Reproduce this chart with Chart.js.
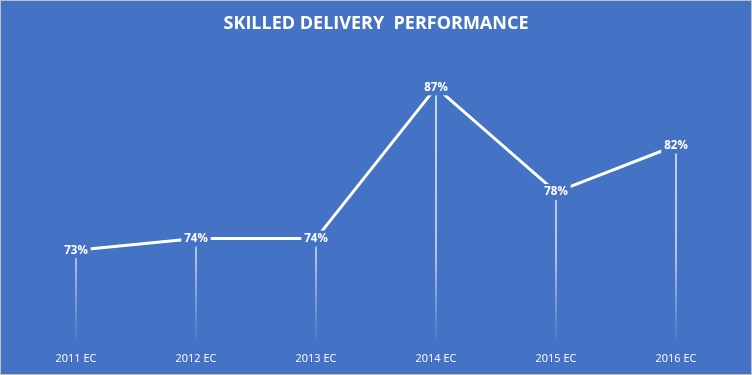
<!DOCTYPE html>
<html>
<head>
<meta charset="utf-8">
<script src="https://cdn.jsdelivr.net/npm/chart.js@4"></script>
<style>
  html, body { margin: 0; padding: 0; background: #fff; }
  #wrap {
    width: 752px; height: 375px; box-sizing: border-box;
    border: 1px solid #bfbfbf; background: #4472C4;
  }
</style>
</head>
<body>
<div id="wrap"><canvas id="deliveryChart" width="750" height="373"></canvas></div>
<script>
// chart data
const years = ["2011 EC", "2012 EC", "2013 EC", "2014 EC", "2015 EC", "2016 EC"];
const skilledDelivery = [73, 74, 74, 87, 78, 82];

const BLUE = '#4472C4';

// labels sit on the points with a blue box that hides the line behind them
const pointLabels = {
  id: 'pointLabels',
  afterDatasetsDraw(chart) {
    const ctx = chart.ctx;
    const meta = chart.getDatasetMeta(0);
    ctx.save();
    ctx.font = 'bold 11.5px "Open Sans", sans-serif';
    ctx.textAlign = 'center';
    ctx.textBaseline = 'middle';
    meta.data.forEach((pt, i) => {
      const txt = skilledDelivery[i] + '%';
      const w = ctx.measureText(txt).width + 6;
      ctx.fillStyle = BLUE;
      ctx.fillRect(pt.x - w / 2, pt.y - 8, w, 16);
      ctx.fillStyle = '#ffffff';
      ctx.fillText(txt, pt.x, pt.y);
    });
    ctx.restore();
  }
};

// fading drop line colour
function dropFill(context) {
  const chart = context.chart;
  const area = chart.chartArea;
  if (!area) return 'rgba(255,255,255,0.8)';
  const g = chart.ctx.createLinearGradient(0, area.top, 0, area.bottom);
  g.addColorStop(0, 'rgba(255,255,255,0.9)');
  g.addColorStop(0.7, 'rgba(255,255,255,0.7)');
  g.addColorStop(1, 'rgba(255,255,255,0.05)');
  return g;
}

const ctx = document.getElementById('deliveryChart').getContext('2d');
new Chart(ctx, {
  data: {
    labels: years,
    datasets: [{
      type: 'line',
      label: 'Skilled delivery',
      data: skilledDelivery,
      borderColor: '#ffffff',
      borderWidth: 3,
      pointRadius: 0,
      tension: 0,
      order: 1
    }, {
      type: 'bar',
      label: 'drop',
      data: skilledDelivery,
      backgroundColor: dropFill,
      barThickness: 1,
      order: 2
    }]
  },
  options: {
    responsive: false,
    animation: false,
    layout: { padding: { left: 15, right: 15, top: 0, bottom: 5 } },
    plugins: {
      legend: { display: false },
      tooltip: { enabled: false },
      title: {
        display: true,
        text: 'SKILLED DELIVERY  PERFORMANCE',
        color: '#ffffff',
        font: { family: '"Open Sans", sans-serif', size: 18, weight: 'bold' },
        padding: { top: 12, bottom: 26 }
      }
    },
    scales: {
      x: {
        grid: { display: false },
        border: { display: false },
        ticks: {
          color: '#ffffff',
          font: { family: '"Open Sans", sans-serif', size: 11 },
          padding: 4
        }
      },
      y: {
        display: false,
        min: 65.3,
        max: 89.3
      }
    }
  },
  plugins: [pointLabels]
});
</script>
</body>
</html>
